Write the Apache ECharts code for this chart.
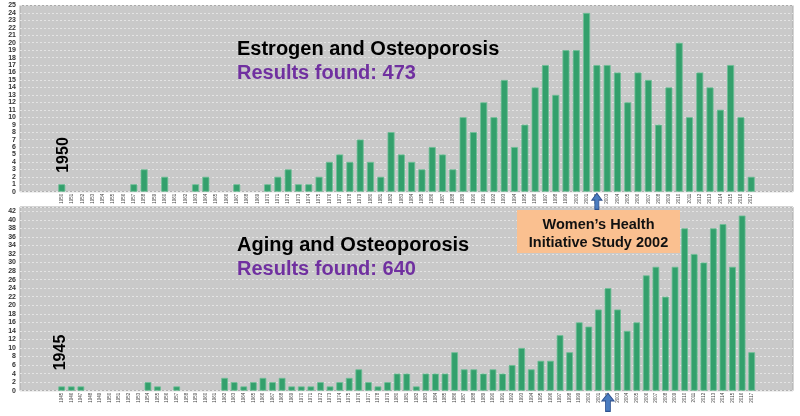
<!DOCTYPE html>
<html><head><meta charset="utf-8">
<script src="https://cdn.jsdelivr.net/npm/echarts@6/dist/echarts.min.js"></script>
<style>html,body{margin:0;padding:0;background:#fff}#c{width:800px;height:416px}</style>
</head><body><div id="c"></div>
<script>
function yearRange(a, b) { const r = []; for (let y = a; y <= b; y++) r.push(String(y)); return r; }

const estrogenYears = yearRange(1950, 2017);
const estrogenCounts = [
  1,0,0,0,0,0,0,1,3,0,
  2,0,0,1,2,0,0,1,0,0,
  1,2,3,1,1,2,4,5,4,7,
  4,2,8,5,4,3,6,5,3,10,
  8,12,10,15,6,9,14,17,13,19,
  19,24,17,17,16,12,16,15,9,14,
  20,10,16,14,11,17,10,2
];
const agingYears = yearRange(1945, 2017);
const agingCounts = [
  1,1,1,0,0,
  0,0,0,0,2,1,0,1,0,0,
  0,0,3,2,1,2,3,2,3,1,
  1,1,2,1,2,3,5,2,1,2,
  4,4,1,4,4,4,9,5,5,4,
  5,4,6,10,5,7,7,13,9,16,
  15,19,24,19,14,16,27,29,22,29,
  38,32,30,38,39,29,41,9
];
const topMax = 25, topInterval = 1;
const bottomMax = 43, bottomInterval = 2;
const markYear = '2002';

const GRAY = '#c9c9c9';
const BAR = '#33a06c';
const BAR_EDGE = '#6dbf95';
const ARROW = 'path://M50,0 L100,42 L70,42 L70,100 L30,100 L30,42 L0,42 Z';

const chart = echarts.init(document.getElementById('c'), null, { renderer: 'canvas' });

function bgY(idx, max, interval) {
  return {
    gridIndex: idx, type: 'value', min: 0, max: max, interval: interval,
    axisLine: { show: false }, axisTick: { show: false },
    axisLabel: { fontSize: 7, color: '#333', fontWeight: 'bold', margin: 4, showMaxLabel: interval === 1 },
    splitLine: { show: true, lineStyle: { color: '#e4e4e4', type: [2, 2], width: 1 } }
  };
}
function barY(idx, max, interval) {
  return { gridIndex: idx, type: 'value', min: 0, max: max, interval: interval, show: false, splitLine: { show: false } };
}
function barX(idx, cats) {
  return {
    gridIndex: idx, type: 'category', data: cats,
    axisLine: { show: false }, axisTick: { show: false },
    axisLabel: { interval: 0, rotate: 90, fontSize: 4.5, color: '#444', margin: 2 },
    splitLine: { show: false }
  };
}
function barData(values) {
  return values.map(v => v > 0 ? { value: v } : { value: v, itemStyle: { borderWidth: 0, opacity: 0 } });
}

const option = {
  backgroundColor: '#ffffff',
  animation: false,
  grid: [
    { left: 20, right: 7, top: 5.5, height: 186.2, show: true, backgroundColor: GRAY, borderColor: '#aaaaaa', borderWidth: 1, outerBoundsMode: 'none' },
    { left: 56.65, width: 699.7, top: 5.5, height: 186.2, outerBoundsMode: 'none' },
    { left: 20, right: 7, top: 207, height: 183.7, show: true, backgroundColor: GRAY, borderColor: '#aaaaaa', borderWidth: 1, outerBoundsMode: 'none' },
    { left: 56.9, width: 699.6, top: 207, height: 183.7, outerBoundsMode: 'none' }
  ],
  xAxis: [
    { gridIndex: 0, type: 'value', min: 0, max: 1, show: false, splitLine: { show: false } },
    barX(1, estrogenYears),
    { gridIndex: 2, type: 'value', min: 0, max: 1, show: false, splitLine: { show: false } },
    barX(3, agingYears)
  ],
  yAxis: [
    bgY(0, topMax, topInterval),
    barY(1, topMax, topInterval),
    bgY(2, bottomMax, bottomInterval),
    barY(3, bottomMax, bottomInterval)
  ],
  series: [
    {
      type: 'bar', xAxisIndex: 1, yAxisIndex: 1, data: barData(estrogenCounts), barCategoryGap: '32%',
      itemStyle: { color: BAR, borderColor: BAR_EDGE, borderWidth: 0.8 },
      markPoint: {
        symbol: ARROW, symbolSize: [10, 16], symbolOffset: [0, 9.6], symbolKeepAspect: false,
        label: { show: false },
        itemStyle: { color: '#4a7cc0', borderColor: '#2f528f', borderWidth: 1, opacity: 1 },
        data: [{ coord: [markYear, 0] }]
      }
    },
    {
      type: 'bar', xAxisIndex: 3, yAxisIndex: 3, data: barData(agingCounts), barCategoryGap: '30%',
      itemStyle: { color: BAR, borderColor: BAR_EDGE, borderWidth: 0.8 },
      markPoint: {
        symbol: ARROW, symbolSize: [12, 18], symbolOffset: [0, 11.6], symbolKeepAspect: false,
        label: { show: false },
        itemStyle: { color: '#4a7cc0', borderColor: '#2f528f', borderWidth: 1, opacity: 1 },
        data: [{ coord: [markYear, 0] }]
      }
    }
  ],
  graphic: [
    { type: 'text', left: 237, top: 39, z: 10, style: { text: 'Estrogen and Osteoporosis', fill: '#000', font: 'bold 20px "Liberation Sans", Arial, sans-serif' } },
    { type: 'text', left: 237, top: 63, z: 10, style: { text: 'Results found: 473', fill: '#7030a0', font: 'bold 20px "Liberation Sans", Arial, sans-serif' } },
    { type: 'text', left: 237, top: 235, z: 10, style: { text: 'Aging and Osteoporosis', fill: '#000', font: 'bold 20px "Liberation Sans", Arial, sans-serif' } },
    { type: 'text', left: 237, top: 259, z: 10, style: { text: 'Results found: 640', fill: '#7030a0', font: 'bold 20px "Liberation Sans", Arial, sans-serif' } },
    { type: 'text', x: 63.5, y: 155, rotation: Math.PI / 2, z: 10, style: { text: '1950', fill: '#000', font: 'bold 16px "Liberation Sans", Arial, sans-serif', align: 'center', verticalAlign: 'middle' } },
    { type: 'text', x: 61, y: 352.5, rotation: Math.PI / 2, z: 10, style: { text: '1945', fill: '#000', font: 'bold 16px "Liberation Sans", Arial, sans-serif', align: 'center', verticalAlign: 'middle' } },
    { type: 'rect', z: 9, shape: { x: 517, y: 210, width: 163, height: 43 }, style: { fill: '#fac090' } },
    { type: 'text', x: 598.5, y: 224.5, z: 10, style: { text: 'Women\u2019s Health', fill: '#111', font: 'bold 14.5px "Liberation Sans", Arial, sans-serif', align: 'center', verticalAlign: 'middle' } },
    { type: 'text', x: 598.5, y: 242.5, z: 10, style: { text: 'Initiative Study 2002', fill: '#111', font: 'bold 14.5px "Liberation Sans", Arial, sans-serif', align: 'center', verticalAlign: 'middle' } }
  ]
};
chart.setOption(option);
</script>
</body></html>
